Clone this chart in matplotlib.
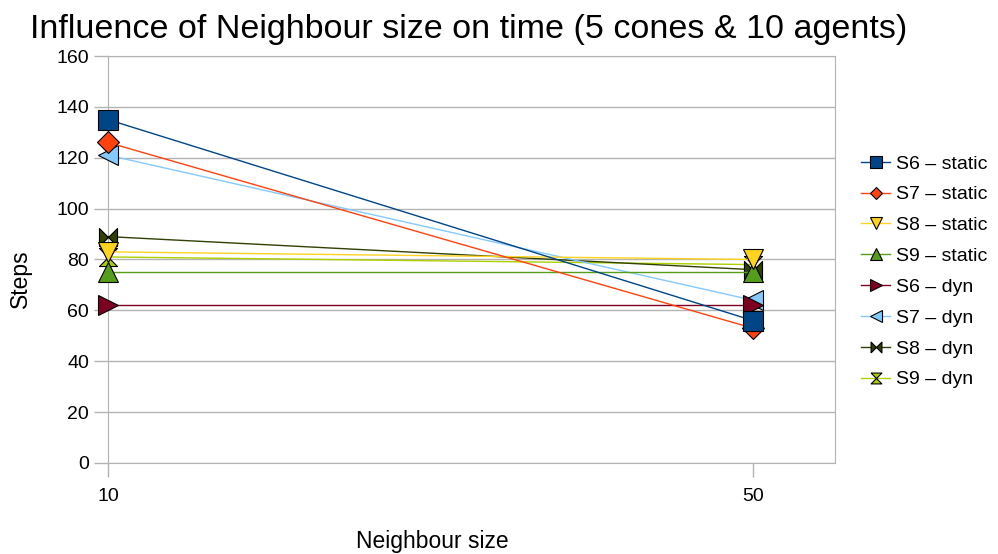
import numpy as np
import matplotlib.pyplot as plt
from matplotlib.path import Path

plt.rcParams['font.family'] = ['Liberation Sans', 'DejaVu Sans']

neighbour = [10, 50]
series_names = ['S6 – static', 'S7 – static', 'S8 – static', 'S9 – static',
                'S6 – dyn', 'S7 – dyn', 'S8 – dyn', 'S9 – dyn']
s6_static = [135, 56]
s7_static = [126, 53]
s8_static = [83, 80]
s9_static = [75, 75]
s6_dyn = [62, 62]
s7_dyn = [121, 64]
s8_dyn = [89, 76]
s9_dyn = [81, 78]
all_steps = [s6_static, s7_static, s8_static, s9_static, s6_dyn, s7_dyn, s8_dyn, s9_dyn]

colors = ['#004586', '#ff420e', '#ffd320', '#579d1c',
          '#7e0021', '#83caff', '#314004', '#aecf00']

# bowtie and hourglass markers like the office suite uses
bowtie = Path([(-1, -1), (-1, 1), (0, 0), (1, 1), (1, -1), (0, 0), (-1, -1)])
hourglass = Path([(-1, 1), (1, 1), (0, 0), (1, -1), (-1, -1), (0, 0), (-1, 1)])
markers = ['s', 'D', 'v', '^', '>', '<', bowtie, hourglass]
sizes = [14, 11, 14, 14, 14, 14, 13, 13]

fig = plt.figure(figsize=(9.98, 5.54), dpi=100)
ax = fig.add_axes([0.1082, 0.1643, 0.7285, 0.7346])

# first series ends up on top, as in the original
for i, (steps, name, c, m, s) in enumerate(zip(all_steps, series_names, colors, markers, sizes)):
    ax.plot(neighbour, steps, color=c, lw=1, marker=m, markersize=s,
            markerfacecolor=c, markeredgecolor='black', markeredgewidth=0.8,
            label=name, clip_on=False, zorder=20 - i)

ax.set_xlim(10, 55.1)
ax.set_ylim(0, 160)
ax.set_xticks(neighbour)
ax.set_yticks(np.arange(0, 161, 20))
ax.grid(True, axis='y', color='#b3b3b3', lw=1)
ax.set_axisbelow(True)
for sp in ax.spines.values():
    sp.set_color('#b3b3b3')
ax.tick_params(axis='both', colors='#b3b3b3', length=10, width=1, labelsize=14,
               labelcolor='black')
ax.tick_params(axis='x', pad=8)

ax.set_xlabel('Neighbour size', fontsize=16.5)
ax.xaxis.set_label_coords(0.446, -0.165)
ax.set_ylabel('Steps', fontsize=16.5)
ax.yaxis.set_label_coords(-0.1045, 0.452)
fig.text(0.03, 0.931, 'Influence of Neighbour size on time (5 cones & 10 agents)',
         fontsize=24.5, va='baseline')

ax.legend(loc='center left', bbox_to_anchor=(1.012, 0.47), frameon=False,
          fontsize=14, markerscale=0.6, handlelength=1.5, handletextpad=0.3,
          labelspacing=0.68)

fig.savefig('out.png', dpi=100)
